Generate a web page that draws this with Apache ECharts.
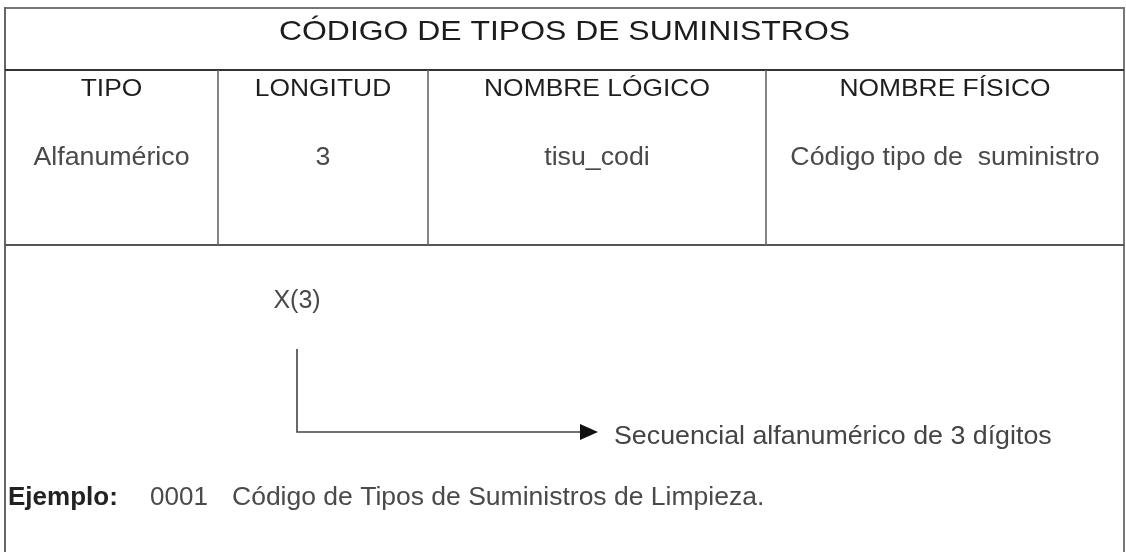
<!DOCTYPE html>
<html>
<head>
<meta charset="utf-8">
<script src="https://cdn.jsdelivr.net/npm/echarts@6/dist/echarts.min.js"></script>
<style>
html,body{margin:0;padding:0;background:#fff;}
#chart{width:1126px;height:552px;}
</style>
</head>
<body>
<div id="chart"></div>
<script>
// ---- content ----
const title = 'CÓDIGO DE TIPOS DE SUMINISTROS';
const headers = ['TIPO', 'LONGITUD', 'NOMBRE LÓGICO', 'NOMBRE FÍSICO'];
const values = ['Alfanumérico', '3', 'tisu_codi', 'Código tipo de  suministro'];
const formatLabel = 'X(3)';
const formatNote = 'Secuencial alfanumérico de 3 dígitos';
const exampleLabel = 'Ejemplo:';
const exampleCode = '0001';
const exampleText = 'Código de Tipos de Suministros de Limpieza.';

// ---- layout ----
const L = 5, R = 1124, T = 8, B = 560;
const titleLineY = 70, rowLineY = 245;
const colX = [L, 218, 428, 766, R];
const FONT = '"Liberation Sans", Arial, Helvetica, sans-serif';

const chart = echarts.init(document.getElementById('chart'), null, {renderer: 'canvas'});
const els = [];
function line(x1, y1, x2, y2, color, w) {
  els.push({type: 'line', shape: {x1, y1, x2, y2}, style: {stroke: color, lineWidth: w}, silent: true});
}
function text(str, x, y, opt) {
  els.push({
    type: 'text', x, y, scaleX: opt.sx || 1, silent: true,
    style: {
      text: str, fill: opt.color || '#222', font: (opt.weight || 'normal') + ' ' + opt.size + 'px ' + FONT,
      textAlign: opt.align || 'center', textVerticalAlign: 'middle'
    }
  });
}

// frame
line(L, T, R, T, '#777', 2);
line(L, T - 1, L, B, '#666', 2);
line(R, T - 1, R, B, '#777', 2);
line(L, titleLineY, R, titleLineY, '#333', 2);
line(L, rowLineY, R, rowLineY, '#555', 2);
for (let i = 1; i < colX.length - 1; i++) line(colX[i], titleLineY, colX[i], rowLineY, '#666', 1.6);

// title
text(title, (L + R) / 2, 32, {size: 28, sx: 1.14, color: '#1c1c1c'});
// header + values
headers.forEach((h, i) => {
  const cx = (colX[i] + colX[i + 1]) / 2;
  text(h, cx, 89, {size: 24, sx: 1.1, color: '#1e1e1e'});
  text(values[i], cx, 158, {size: 25, sx: 1.07, color: '#4a4a4a'});
});

// format diagram
const fx = 297, lineY = 432;
text(formatLabel, fx, 301, {size: 25, sx: 1.0, color: '#4a4a4a'});
els.push({type: 'polyline', shape: {points: [[fx, 349], [fx, lineY], [582, lineY]]}, style: {stroke: '#444', lineWidth: 1.6, fill: null}, silent: true});
els.push({type: 'polygon', shape: {points: [[580, lineY - 8], [598, lineY], [580, lineY + 8]]}, style: {fill: '#111'}, silent: true});
text(formatNote, 614, 437, {size: 26, sx: 1.03, color: '#444', align: 'left'});

// example
text(exampleLabel, 8, 498, {size: 26, weight: 'bold', color: '#222', align: 'left'});
text(exampleCode, 150, 498, {size: 26, color: '#4a4a4a', align: 'left'});
text(exampleText, 232, 498, {size: 26.5, color: '#4a4a4a', align: 'left'});

chart.setOption({animation: false, graphic: {elements: els}});
</script>
</body>
</html>
